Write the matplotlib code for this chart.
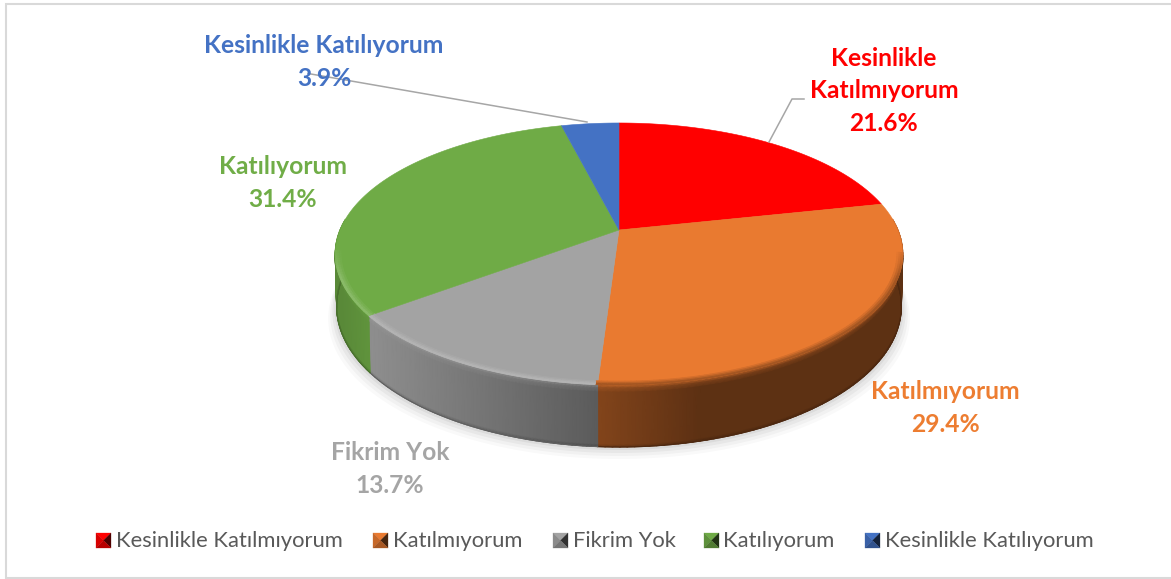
import numpy as np
import matplotlib
matplotlib.use("Agg")
import matplotlib.pyplot as plt
from matplotlib.collections import PolyCollection

plt.rcParams['font.family'] = ['Lato', 'DejaVu Sans']

categories = ["Kesinlikle Katılmıyorum", "Katılmıyorum", "Fikrim Yok", "Katılıyorum", "Kesinlikle Katılıyorum"]
values = [21.6, 29.4, 13.7, 31.4, 3.9]
colors = ["#ff0000", "#ed7d31", "#a5a5a5", "#70ad47", "#4472c4"]
top_colors = ["#ff0000", "#e97a30", "#a3a3a3", "#6fab46", "#4472c4"]
label_text = ["Kesinlikle\nKatılmıyorum\n21.6%", "Katılmıyorum\n29.4%", "Fikrim Yok\n13.7%",
              "Katılıyorum\n31.4%", "Kesinlikle Katılıyorum\n3.9%"]
label_pos = [(884, 91), (945, 408), (390, 469), (283, 183), (324, 62)]
legend_box_x = [96, 373, 553, 704, 865]
legend_text_x = [116, 393, 573, 723, 885]

W, H = 1171, 579
cx, cy = 619, 230
px_a, px_b, persp = 126.6, 279.0, -0.183
depth0 = 50.7

fig = plt.figure(figsize=(W / 100, H / 100), dpi=100)
ax = fig.add_axes([0, 0, 1, 1])
ax.set_xlim(0, W)
ax.set_ylim(H, 0)
ax.axis('off')


def project(theta, r=1.0, depth=0.0):
    # theta is clockwise from the top, the pie is tilted with some perspective
    x = r * np.sin(theta)
    y = -r * np.cos(theta)
    w = 1 + persp * y
    sx = px_b * x / w * (1 - 0.005 * depth)
    sy = px_a * y / w + depth * depth0 / w
    return np.column_stack([cx + sx, cy + sy])


def mix(c, other, t):
    return np.array(c) * (1 - t) + np.array(other) * t


rgb = [np.array(matplotlib.colors.to_rgb(c)) for c in top_colors]
edges = np.radians(np.cumsum([0] + values) / sum(values) * 360)

# chart frame, open on the right
ax.plot([W, 6, 6, W], [4, 4, 578, 578], color="#d9d9d9", lw=1.5, solid_joinstyle='miter')

# soft shadow under the pie
th = np.radians(np.linspace(60, 300, 200))
for grow, al in [(12, 0.025), (9, 0.03), (6, 0.04), (3, 0.05)]:
    rim = project(th, 1.0, 1.0)
    rim[:, 1] += grow
    rim[:, 0] = cx + (rim[:, 0] - cx) * (1 + grow / 400)
    ax.fill(rim[:, 0], rim[:, 1], color="k", alpha=al, lw=0, zorder=1)

# side wall, one smooth mesh per wedge, shade goes with the screen x
depths = [0.0, 0.05, 0.12, 0.96, 1.0]
blends = [0.55, 0.2, 0.0, 0.0, -0.2]
lo, hi = np.radians(85), np.radians(275)
for i in range(len(values)):
    a0, a1 = max(edges[i], lo), min(edges[i + 1], hi)
    if a1 <= a0:
        continue
    a = np.linspace(a0, a1, 80)
    px = project(a)[:, 0]
    shade = np.interp(px, [340, 372, 598, 700, 903], [0.80, 0.87, 0.56, 0.40, 0.40])
    X = np.zeros((len(depths), len(a)))
    Y = np.zeros_like(X)
    C = np.zeros(X.shape + (3,))
    for k, (d, b) in enumerate(zip(depths, blends)):
        p = project(a, 1.0, d)
        X[k] = p[:, 0]
        Y[k] = p[:, 1]
        for j in range(len(a)):
            base = rgb[i] * shade[j]
            C[k, j] = mix(base, rgb[i], b) if b >= 0 else base * (1 + b)
    ax.pcolormesh(X, Y, C, shading='gouraud', zorder=2)
    # clean edge along the bottom of the wall
    ax.plot(X[-1], Y[-1], color=rgb[i] * shade.mean() * 0.8, lw=0.8, zorder=2)

# top of the pie, wedges come from the values
for i in range(len(values)):
    a = np.linspace(edges[i], edges[i + 1], 200)
    arc = project(a)
    pts = np.vstack([[cx, cy], arc])
    ax.fill(pts[:, 0], pts[:, 1], color=top_colors[i], lw=0.4, zorder=3)

# bevel along the front rim
step = np.radians(1.0)
ths = np.arange(np.radians(100), np.radians(260), step)
quads, cols = [], []
rings = [(0.98, 0.987, 0.25), (0.987, 0.994, 0.55), (0.994, 1.0, 0.85)]
for t in ths:
    i = np.searchsorted(edges, t + step / 2) - 1
    a = np.array([t, t + step])
    px = project(a)[0, 0]
    fade = np.clip((-np.cos(t) - 0.1) / 0.25, 0, 1)
    for r0, r1, s in rings:
        p0 = project(a, r0)
        p1 = project(a, r1)
        quads.append([p0[0], p0[1], p1[1], p1[0]])
        if px > 598:
            cols.append(mix(rgb[i], rgb[i] * 0.5, s * fade * 0.7))
        else:
            cols.append(mix(rgb[i], (1, 1, 1), s * fade * 0.22))
ax.add_collection(PolyCollection(quads, facecolors=cols, edgecolors=cols, linewidths=0.6, zorder=4))

# leader lines
ax.plot([308, 587], [73.5, 122], color="#a6a6a6", lw=1.1, zorder=5)
ax.plot([769, 792, 804], [142, 99, 99], color="#a6a6a6", lw=1.1, zorder=5)

# data labels
for txt, pos, c in zip(label_text, label_pos, colors):
    ax.text(pos[0], pos[1], txt, color=c, fontsize=17.75, fontweight='bold', ha='center', va='center',
            linespacing=1.48, zorder=6)

# legend, little pyramid keys
for name, bx, tx, c in zip(categories, legend_box_x, legend_text_x, rgb):
    x0, x1, y0, y1 = bx, bx + 15, 533, 548
    xm, ym = bx + 7.5, 540.5
    for pts, f in [([(x0, y0), (x1, y0), (xm, ym)], 1.0),
                   ([(x0, y0), (x0, y1), (xm, ym)], 0.85),
                   ([(x1, y0), (x1, y1), (xm, ym)], 0.3),
                   ([(x0, y1), (x1, y1), (xm, ym)], 0.72)]:
        ax.fill(*zip(*pts), color=c * f, lw=0.2, zorder=5)
    ax.text(tx, 541, name, color="#595959", fontsize=15.85, ha='left', va='center', zorder=6)

fig.savefig("out.png", dpi=100)
